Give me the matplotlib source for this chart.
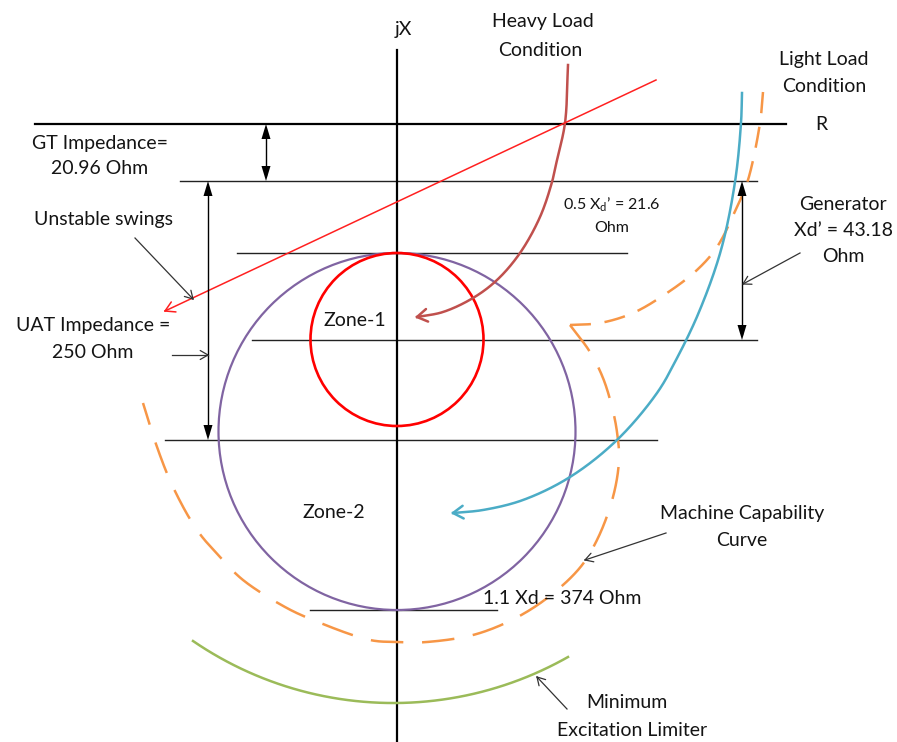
import numpy as np
import matplotlib
matplotlib.use("Agg")
import matplotlib.pyplot as plt
from matplotlib.patches import Circle, Polygon

plt.rcParams["font.family"] = ["Lato", "DejaVu Sans"]
plt.rcParams["mathtext.fontset"] = "custom"
plt.rcParams["mathtext.rm"] = "Lato"
plt.rcParams["mathtext.it"] = "Lato:italic"

W, H = 897, 742

# ---- impedance-plane geometry (drawing units, y grows downward) ----
origin_x = 397
r_axis_y = 124
jx_axis_top, jx_axis_bottom = 50, 742
r_axis_left, r_axis_right = 35, 786

# horizontal reference levels: row, left end, right end
level_rows = [181, 253, 340, 440, 610]
level_left = [180, 237, 252, 165, 310]
level_right = [757, 627, 757, 657, 497]

# mho relay circles (centred on the jX axis)
zone1_center_y, zone1_radius = 339.5, 86.5
zone2_center_y, zone2_radius = 431.5, 178.5

# machine capability curve (two dashed pieces meeting at a corner)
cap_upper_x = [763, 760, 748, 737, 717, 697, 667, 633, 600, 570]
cap_upper_y = [92, 123, 180, 207, 247, 270, 293, 313, 323, 325]
cap_lower_x = [570, 590, 603, 612, 617, 619, 613, 597, 578, 533, 480, 427,
               397, 370, 313, 285, 243, 220, 197, 173, 157, 143]
cap_lower_y = [325, 352, 378, 407, 432, 460, 497, 540, 570, 608, 633, 642,
               642, 640, 620, 607, 580, 557, 530, 487, 447, 403]

# impedance trajectories
heavy_x = [568, 565, 557, 552, 540, 520, 497, 473, 443, 417]
heavy_y = [65, 123, 160, 182, 217, 253, 280, 298, 312, 317]
light_x = [742, 741, 735, 721, 699, 676, 657, 617, 570, 523, 483, 453]
light_y = [93, 123, 182, 250, 312, 360, 393, 440, 477, 500, 510, 513]
swing_start = (656, 80)
swing_end = (165, 311)

# minimum excitation limiter arc (three points on the arc)
mel_x = [193, 397, 568]
mel_y = [641, 703, 657]

# dimension arrows: x, top row, bottom row
dim_x = [266, 208, 742]
dim_top = [124, 181, 181]
dim_bottom = [181, 440, 340]

# leader arrows: (tail, tip)
leaders = [((135, 238), (193, 299)),
           ((172, 355), (208, 355)),
           ((800, 253), (743, 284)),
           ((666, 533), (585, 560)),
           ((567, 709), (537, 677))]

# labels: text, x, y, size
labels = [
    ("jX", 403, 30, 14),
    ("R", 821, 124, 14),
    ("Heavy Load", 543, 22, 14),
    ("Condition", 540, 50, 14),
    ("Light Load", 824, 59, 14),
    ("Condition", 824, 86, 14),
    ("GT Impedance=", 100, 143, 14),
    ("20.96 Ohm", 100, 169, 14),
    ("Unstable swings", 103, 220, 14),
    ("UAT Impedance =", 93, 325, 14),
    ("250 Ohm", 93, 352, 14),
    ("0.5 X$_\\mathregular{d}$\u2019 = 21.6", 612, 205, 11.5),
    ("Ohm", 612, 228, 11.5),
    ("Generator", 843, 204, 14),
    ("Xd\u2019 = 43.18", 843, 230, 14),
    ("Ohm", 843, 257, 14),
    ("Zone-1", 355, 320, 14),
    ("Zone-2", 334, 513, 14),
    ("1.1 Xd = 374 Ohm", 562, 599, 14),
    ("Machine Capability", 742, 513, 14),
    ("Curve", 742, 540, 14),
    ("Minimum", 627, 703, 14),
    ("Excitation Limiter", 632, 730, 14),
]

C_ZONE1 = "#FF0000"
C_ZONE2 = "#8064A2"
C_CAP = "#F79646"
C_HEAVY = "#C0504D"
C_LIGHT = "#4BACC6"
C_MEL = "#9BBB59"
C_SWING = "#FF2020"
C_TEXT = "#141414"


def smooth(xs, ys, n=30, alpha=0.5):
    """Centripetal Catmull-Rom spline through the given points."""
    P = np.column_stack([xs, ys]).astype(float)
    P = np.vstack([2 * P[0] - P[1], P, 2 * P[-1] - P[-2]])
    out = []
    for i in range(1, len(P) - 2):
        p0, p1, p2, p3 = P[i - 1], P[i], P[i + 1], P[i + 2]
        t0 = 0.0
        t1 = t0 + np.linalg.norm(p1 - p0) ** alpha
        t2 = t1 + np.linalg.norm(p2 - p1) ** alpha
        t3 = t2 + np.linalg.norm(p3 - p2) ** alpha
        t = np.linspace(t1, t2, n, endpoint=False)[:, None]
        a1 = (t1 - t) / (t1 - t0) * p0 + (t - t0) / (t1 - t0) * p1
        a2 = (t2 - t) / (t2 - t1) * p1 + (t - t1) / (t2 - t1) * p2
        a3 = (t3 - t) / (t3 - t2) * p2 + (t - t2) / (t3 - t2) * p3
        b1 = (t2 - t) / (t2 - t0) * a1 + (t - t0) / (t2 - t0) * a2
        b2 = (t3 - t) / (t3 - t1) * a2 + (t - t1) / (t3 - t1) * a3
        out.append((t2 - t) / (t2 - t1) * b1 + (t - t1) / (t2 - t1) * b2)
    out.append(P[-2][None, :])
    pts = np.vstack(out)
    return pts[:, 0], pts[:, 1]


def open_head(ax, tip, tail, color, lw, length=12, spread=32):
    d = np.asarray(tip, float) - np.asarray(tail, float)
    d /= np.linalg.norm(d)
    for s in (1, -1):
        a = np.deg2rad(s * spread)
        rot = np.array([[np.cos(a), -np.sin(a)], [np.sin(a), np.cos(a)]])
        b = rot @ (-d) * length
        ax.plot([tip[0], tip[0] + b[0]], [tip[1], tip[1] + b[1]],
                color=color, lw=lw, solid_capstyle="round", zorder=4)


def filled_head(ax, tip, direction, length=15, half=4.5, color="black"):
    d = np.asarray(direction, float)
    d /= np.linalg.norm(d)
    n = np.array([-d[1], d[0]])
    tip = np.asarray(tip, float)
    base = tip - d * length
    ax.add_patch(Polygon([tip, base + n * half, base - n * half],
                         closed=True, color=color, zorder=5, lw=0))


fig = plt.figure(figsize=(W / 100, H / 100), dpi=100)
ax = fig.add_axes([0, 0, 1, 1])
ax.set_xlim(0, W)
ax.set_ylim(H, 0)
ax.set_aspect("equal")
ax.axis("off")

# axes of the R-X plane
ax.plot([origin_x, origin_x], [jx_axis_top, jx_axis_bottom], color="black", lw=1.6, zorder=3)
ax.plot([r_axis_left, r_axis_right], [r_axis_y, r_axis_y], color="black", lw=1.6, zorder=3)

# reference levels
for yr, xl, xr in zip(level_rows, level_left, level_right):
    ax.plot([xl, xr], [yr, yr], color="#222222", lw=1.0, zorder=2)

# zone circles
ax.add_patch(Circle((origin_x, zone2_center_y), zone2_radius, fill=False,
                    ec=C_ZONE2, lw=1.6, zorder=3))
ax.add_patch(Circle((origin_x, zone1_center_y), zone1_radius, fill=False,
                    ec=C_ZONE1, lw=1.9, zorder=3))

# machine capability curve
ux, uy = smooth(cap_upper_x, cap_upper_y)
ax.plot(ux, uy, color=C_CAP, lw=1.8, ls=(0, (8.5, 5.5)), zorder=3)
lx, ly = smooth(cap_lower_x, cap_lower_y)
ax.plot(lx, ly, color=C_CAP, lw=1.8, ls=(0, (13, 7.5)), zorder=3)

# heavy-load trajectory
hx, hy = smooth(heavy_x, heavy_y)
ax.plot(hx, hy, color=C_HEAVY, lw=1.8, zorder=4)
open_head(ax, (hx[-1], hy[-1]), (hx[-8], hy[-8]), C_HEAVY, 1.8)

# light-load trajectory
bx, by = smooth(light_x, light_y)
ax.plot(bx, by, color=C_LIGHT, lw=1.8, zorder=4)
open_head(ax, (bx[-1], by[-1]), (bx[-8], by[-8]), C_LIGHT, 1.8)

# unstable swing locus
ax.plot([swing_start[0], swing_end[0]], [swing_start[1], swing_end[1]],
        color=C_SWING, lw=1.1, zorder=4)
open_head(ax, swing_end, swing_start, C_SWING, 1.1, length=11, spread=30)

# minimum excitation limiter: arc through three points
(x1, x2, x3), (y1, y2, y3) = mel_x, mel_y
dd = 2 * (x1 * (y2 - y3) + x2 * (y3 - y1) + x3 * (y1 - y2))
cx = ((x1**2 + y1**2) * (y2 - y3) + (x2**2 + y2**2) * (y3 - y1) + (x3**2 + y3**2) * (y1 - y2)) / dd
cy = ((x1**2 + y1**2) * (x3 - x2) + (x2**2 + y2**2) * (x1 - x3) + (x3**2 + y3**2) * (x2 - x1)) / dd
rad = np.hypot(x1 - cx, y1 - cy)
a1 = np.arctan2(y1 - cy, x1 - cx)
a3 = np.arctan2(y3 - cy, x3 - cx)
ang = np.linspace(a1, a3, 200)
ax.plot(cx + rad * np.cos(ang), cy + rad * np.sin(ang), color=C_MEL, lw=1.8, zorder=3)

# dimension arrows
for x, yt, yb in zip(dim_x, dim_top, dim_bottom):
    ax.plot([x, x], [yt + 6, yb - 6], color="black", lw=1.0, zorder=5)
    filled_head(ax, (x, yt), (0, -1))
    filled_head(ax, (x, yb), (0, 1))

# leader arrows
for tail, tip in leaders:
    ax.plot([tail[0], tip[0]], [tail[1], tip[1]], color="#333333", lw=0.9, zorder=5)
    open_head(ax, tip, tail, "#333333", 0.9, length=9, spread=30)

# labels
for txt, x, y, size in labels:
    ax.text(x, y, txt, fontsize=size, color=C_TEXT, ha="center", va="center", zorder=6)

fig.savefig("out.png", dpi=100)
